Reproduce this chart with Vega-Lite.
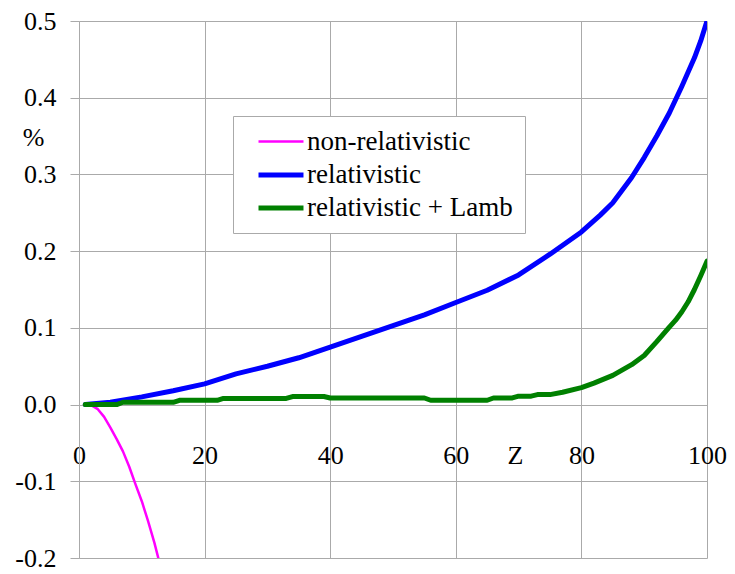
{
  "width": 628,
  "height": 537,
  "autosize": "none",
  "padding": {"left": 79, "top": 21, "right": 28, "bottom": 16},
  "background": "white",
  "config": {
    "view": {"stroke": null},
    "font": "Liberation Serif",
    "style": {
      "guide-label": {"font": "Liberation Serif"},
      "guide-title": {"font": "Liberation Serif"}
    },
    "axis": {"labelFont": "Liberation Serif", "titleFont": "Liberation Serif"},
    "legend": {"labelFont": "Liberation Serif"}
  },
  "data": {
    "values": [
      {"Z": 1, "v": 0, "series": "non-relativistic"},
      {"Z": 2, "v": -0.001, "series": "non-relativistic"},
      {"Z": 3, "v": -0.006, "series": "non-relativistic"},
      {"Z": 4, "v": -0.016, "series": "non-relativistic"},
      {"Z": 5, "v": -0.030, "series": "non-relativistic"},
      {"Z": 6, "v": -0.045, "series": "non-relativistic"},
      {"Z": 7, "v": -0.061, "series": "non-relativistic"},
      {"Z": 8, "v": -0.081, "series": "non-relativistic"},
      {"Z": 9, "v": -0.104, "series": "non-relativistic"},
      {"Z": 10, "v": -0.126, "series": "non-relativistic"},
      {"Z": 11, "v": -0.152, "series": "non-relativistic"},
      {"Z": 12, "v": -0.180, "series": "non-relativistic"},
      {"Z": 13, "v": -0.212, "series": "non-relativistic"},

      {"Z": 1, "v": 0, "series": "relativistic"},
      {"Z": 5, "v": 0.003, "series": "relativistic"},
      {"Z": 10, "v": 0.010, "series": "relativistic"},
      {"Z": 15, "v": 0.018, "series": "relativistic"},
      {"Z": 20, "v": 0.027, "series": "relativistic"},
      {"Z": 25, "v": 0.040, "series": "relativistic"},
      {"Z": 30, "v": 0.050, "series": "relativistic"},
      {"Z": 35, "v": 0.061, "series": "relativistic"},
      {"Z": 40, "v": 0.075, "series": "relativistic"},
      {"Z": 45, "v": 0.089, "series": "relativistic"},
      {"Z": 50, "v": 0.103, "series": "relativistic"},
      {"Z": 55, "v": 0.117, "series": "relativistic"},
      {"Z": 60, "v": 0.133, "series": "relativistic"},
      {"Z": 65, "v": 0.149, "series": "relativistic"},
      {"Z": 70, "v": 0.169, "series": "relativistic"},
      {"Z": 75, "v": 0.196, "series": "relativistic"},
      {"Z": 80, "v": 0.225, "series": "relativistic"},
      {"Z": 83, "v": 0.247, "series": "relativistic"},
      {"Z": 85, "v": 0.263, "series": "relativistic"},
      {"Z": 88, "v": 0.296, "series": "relativistic"},
      {"Z": 90, "v": 0.322, "series": "relativistic"},
      {"Z": 92, "v": 0.350, "series": "relativistic"},
      {"Z": 94, "v": 0.380, "series": "relativistic"},
      {"Z": 96, "v": 0.415, "series": "relativistic"},
      {"Z": 98, "v": 0.452, "series": "relativistic"},
      {"Z": 99, "v": 0.474, "series": "relativistic"},
      {"Z": 100, "v": 0.500, "series": "relativistic"},

      {"Z": 1, "v": 0, "series": "relativistic + Lamb"},
      {"Z": 6, "v": 0, "series": "relativistic + Lamb"},
      {"Z": 7, "v": 0.003, "series": "relativistic + Lamb"},
      {"Z": 15, "v": 0.003, "series": "relativistic + Lamb"},
      {"Z": 16, "v": 0.0055, "series": "relativistic + Lamb"},
      {"Z": 22, "v": 0.0055, "series": "relativistic + Lamb"},
      {"Z": 23, "v": 0.008, "series": "relativistic + Lamb"},
      {"Z": 33, "v": 0.008, "series": "relativistic + Lamb"},
      {"Z": 34, "v": 0.0105, "series": "relativistic + Lamb"},
      {"Z": 39, "v": 0.0105, "series": "relativistic + Lamb"},
      {"Z": 40, "v": 0.0086, "series": "relativistic + Lamb"},
      {"Z": 55, "v": 0.0086, "series": "relativistic + Lamb"},
      {"Z": 56, "v": 0.0056, "series": "relativistic + Lamb"},
      {"Z": 65, "v": 0.0056, "series": "relativistic + Lamb"},
      {"Z": 66, "v": 0.0086, "series": "relativistic + Lamb"},
      {"Z": 69, "v": 0.0086, "series": "relativistic + Lamb"},
      {"Z": 70, "v": 0.011, "series": "relativistic + Lamb"},
      {"Z": 72, "v": 0.011, "series": "relativistic + Lamb"},
      {"Z": 73, "v": 0.013, "series": "relativistic + Lamb"},
      {"Z": 75, "v": 0.013, "series": "relativistic + Lamb"},
      {"Z": 77, "v": 0.016, "series": "relativistic + Lamb"},
      {"Z": 80, "v": 0.022, "series": "relativistic + Lamb"},
      {"Z": 82, "v": 0.028, "series": "relativistic + Lamb"},
      {"Z": 85, "v": 0.038, "series": "relativistic + Lamb"},
      {"Z": 88, "v": 0.052, "series": "relativistic + Lamb"},
      {"Z": 90, "v": 0.064, "series": "relativistic + Lamb"},
      {"Z": 92, "v": 0.082, "series": "relativistic + Lamb"},
      {"Z": 94, "v": 0.101, "series": "relativistic + Lamb"},
      {"Z": 95, "v": 0.110, "series": "relativistic + Lamb"},
      {"Z": 96, "v": 0.121, "series": "relativistic + Lamb"},
      {"Z": 97, "v": 0.134, "series": "relativistic + Lamb"},
      {"Z": 98, "v": 0.150, "series": "relativistic + Lamb"},
      {"Z": 99, "v": 0.168, "series": "relativistic + Lamb"},
      {"Z": 100, "v": 0.187, "series": "relativistic + Lamb"}
    ]
  },
  "mark": {"type": "line", "clip": true, "strokeCap": "round", "strokeJoin": "round"},
  "encoding": {
    "x": {
      "field": "Z",
      "type": "quantitative",
      "scale": {"domain": [0, 100], "nice": false, "zero": false},
      "axis": {
        "values": [0, 20, 40, 60, 80, 100],
        "offset": -154,
        "domain": false,
        "ticks": false,
        "tickSize": 0,
        "grid": true,
        "gridColor": "#aaaaaa",
        "gridWidth": 1,
        "labelFont": "Liberation Serif",
        "labelFontSize": 26,
        "labelColor": "#000000",
        "labelBaseline": "alphabetic",
        "labelPadding": 59,
        "labelFlush": false,
        "labelOverlap": false,
        "title": "Z",
        "titleFont": "Liberation Serif",
        "titleFontSize": 26,
        "titleFontWeight": "normal",
        "titleColor": "#000000",
        "titleX": 436,
        "titleY": 59,
        "titleBaseline": "alphabetic",
        "titleAlign": "center"
      }
    },
    "y": {
      "field": "v",
      "type": "quantitative",
      "scale": {"domain": [-0.2, 0.5], "nice": false, "zero": false},
      "axis": {
        "values": [-0.2, -0.1, 0, 0.1, 0.2, 0.3, 0.4, 0.5],
        "labelExpr": "datum.value < -0.001 ? '-' + format(-datum.value, '.1f') : format(abs(datum.value), '.1f')",
        "domain": true,
        "domainColor": "#aaaaaa",
        "ticks": true,
        "tickSize": 9,
        "tickColor": "#aaaaaa",
        "grid": true,
        "gridColor": "#aaaaaa",
        "gridWidth": 1,
        "labelFont": "Liberation Serif",
        "labelFontSize": 26,
        "labelColor": "#000000",
        "labelPadding": 14,
        "labelFlush": false,
        "labelOverlap": false,
        "title": "%",
        "titleAngle": 0,
        "titleFont": "Liberation Serif",
        "titleFontSize": 26,
        "titleFontWeight": "normal",
        "titleColor": "#000000",
        "titleX": -46,
        "titleY": 116,
        "titleAlign": "center",
        "titleBaseline": "middle"
      }
    },
    "color": {
      "field": "series",
      "type": "nominal",
      "scale": {
        "domain": ["non-relativistic", "relativistic", "relativistic + Lamb"],
        "range": ["#ff00ff", "#0000ff", "#008000"]
      },
      "legend": {
        "title": null,
        "orient": "none",
        "legendX": 154,
        "legendY": 95,
        "fillColor": "white",
        "strokeColor": "#aaaaaa",
        "padding": 12,
        "symbolType": "M-2,0H2",
        "symbolSize": 506,
        "symbolOffset": 22,
        "labelOffset": 12,
        "labelFont": "Liberation Serif",
        "labelFontSize": 27,
        "labelColor": "#000000",
        "labelLimit": 400,
        "rowPadding": 6
      }
    },
    "strokeWidth": {
      "field": "series",
      "type": "nominal",
      "scale": {
        "type": "ordinal",
        "domain": ["non-relativistic", "relativistic", "relativistic + Lamb"],
        "range": [2.5, 5, 5]
      },
      "legend": {
        "title": null,
        "orient": "none",
        "legendX": 154,
        "legendY": 95,
        "fillColor": "white",
        "strokeColor": "#aaaaaa",
        "padding": 12,
        "symbolType": "M-2,0H2",
        "symbolSize": 506,
        "symbolOffset": 22,
        "labelOffset": 12,
        "labelFont": "Liberation Serif",
        "labelFontSize": 27,
        "labelColor": "#000000",
        "labelLimit": 400,
        "rowPadding": 6
      }
    }
  }
}
